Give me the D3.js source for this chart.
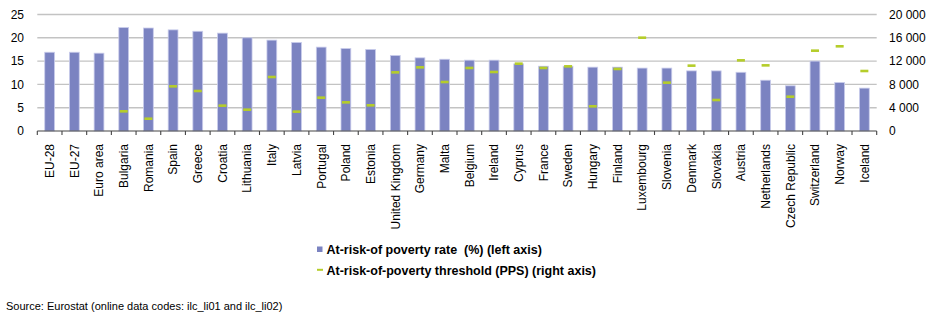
<!DOCTYPE html>
<html>
<head>
<meta charset="utf-8">
<script src="https://cdn.jsdelivr.net/npm/d3@7"></script>
<style>
  body { margin: 0; background: #fff; }
  svg { display: block; font-family: "Liberation Sans", Arial, sans-serif; }
</style>
</head>
<body>
<svg id="chart" width="944" height="324"></svg>
<script>
const categories = ["EU-28","EU-27","Euro area","Bulgaria","Romania","Spain","Greece","Croatia","Lithuania","Italy","Latvia","Portugal","Poland","Estonia","United Kingdom","Germany","Malta","Belgium","Ireland","Cyprus","France","Sweden","Hungary","Finland","Luxembourg","Slovenia","Denmark","Slovakia","Austria","Netherlands","Czech Republic","Switzerland","Norway","Iceland"];
const povertyRate = [16.9,16.9,16.7,22.2,22.1,21.7,21.4,21.0,20.0,19.5,19.0,18.0,17.7,17.5,16.2,15.7,15.4,15.2,15.2,14.4,13.9,13.9,13.7,13.7,13.5,13.5,12.9,12.9,12.6,10.9,9.7,15.0,10.4,9.2];
const threshold = [null,null,null,3380,2110,7670,6870,4350,3660,9270,3320,5720,4920,4410,10070,10930,8410,10820,10130,11560,10820,11100,4240,10650,16020,8300,11220,5320,12130,11270,5890,13790,14540,10300];
const leftTicks = [0,5,10,15,20,25];
const rightTicks = [0,4000,8000,12000,16000,20000];
const legendLabels = ["At-risk-of poverty rate  (%) (left axis)", "At-risk-of-poverty threshold (PPS) (right axis)"];
const sourceText = "Source: Eurostat (online data codes: ilc_li01 and ilc_li02)";

const svg = d3.select("#chart");
const x0 = 37.3, x1 = 876.7, yBase = 131, yTop = 14.5;

const xb = d3.scaleBand().domain(categories).range([x0, x1]);
const yL = d3.scaleLinear().domain([0, 25]).range([yBase, yTop]);
const yR = d3.scaleLinear().domain([0, 20000]).range([yBase, yTop]);

// gridlines
svg.append("g").selectAll("line").data(leftTicks.filter(d => d > 0)).join("line")
  .attr("x1", x0).attr("x2", x1)
  .attr("y1", d => yL(d)).attr("y2", d => yL(d))
  .attr("stroke", "#c3c3c3").attr("stroke-width", 1.4);

// left axis labels
svg.append("g").selectAll("text").data(leftTicks).join("text")
  .attr("x", 24).attr("y", d => yL(d)).attr("dy", "0.36em")
  .attr("text-anchor", "end").attr("font-size", 12).attr("fill", "#000")
  .text(d => d);

// right axis labels
const fmt = v => d3.format(",")(v).replace(/,/g, " ");
svg.append("g").selectAll("text").data(rightTicks).join("text")
  .attr("x", 889).attr("y", d => yR(d)).attr("dy", "0.36em")
  .attr("text-anchor", "start").attr("font-size", 12).attr("fill", "#000")
  .text(d => fmt(d));

// bars
const bw = 9.8;
svg.append("g").selectAll("rect").data(categories).join("rect")
  .attr("x", (d) => xb(d) + xb.bandwidth() / 2 - bw / 2)
  .attr("width", bw)
  .attr("y", (d, i) => yL(povertyRate[i]))
  .attr("height", (d, i) => yBase - yL(povertyRate[i]))
  .attr("fill", "#7b83c1").attr("stroke", "#c9cceb").attr("stroke-width", 0.8);

// axis line and ticks
const axisG = svg.append("g").attr("transform", `translate(0,${yBase})`);
axisG.append("line").attr("x1", x0).attr("x2", x1).attr("y1", 0).attr("y2", 0)
  .attr("stroke", "#444").attr("stroke-width", 1.2);
const boundaries = categories.map(c => xb(c)).concat([x1]);
axisG.selectAll("line.tick").data(boundaries).join("line").attr("class", "tick")
  .attr("x1", d => d).attr("x2", d => d).attr("y1", 0).attr("y2", 4)
  .attr("stroke", "#444").attr("stroke-width", 1.1);

// threshold markers
const mw = 8, mh = 2.6;
svg.append("g").selectAll("rect").data(categories.map((c, i) => ({c, v: threshold[i]})).filter(d => d.v != null)).join("rect")
  .attr("x", d => xb(d.c) + xb.bandwidth() / 2 - mw / 2)
  .attr("width", mw)
  .attr("y", d => yR(d.v) - mh / 2)
  .attr("height", mh)
  .attr("fill", "#b5cd2a");

// category labels
svg.append("g").selectAll("text").data(categories).join("text")
  .attr("transform", d => `translate(${xb(d) + xb.bandwidth() / 2},144) rotate(-90)`)
  .attr("dy", "0.36em")
  .attr("text-anchor", "end").attr("font-size", 12).attr("fill", "#000")
  .text(d => d);

// legend
const lg = svg.append("g");
lg.append("rect").attr("x", 317).attr("y", 246.5).attr("width", 5.5).attr("height", 5.5).attr("fill", "#7b83c1");
lg.append("rect").attr("x", 317).attr("y", 268.8).attr("width", 6).attr("height", 2).attr("fill", "#b5cd2a");
lg.selectAll("text").data(legendLabels).join("text")
  .attr("x", 326.5).attr("y", (d, i) => 254 + i * 20.5)
  .attr("font-size", 12.5).attr("font-weight", "bold").attr("fill", "#000")
  .style("white-space", "pre")
  .text(d => d);

// source
svg.append("text").attr("x", 6).attr("y", 310).attr("font-size", 11).attr("fill", "#000").text(sourceText);
</script>
</body>
</html>
